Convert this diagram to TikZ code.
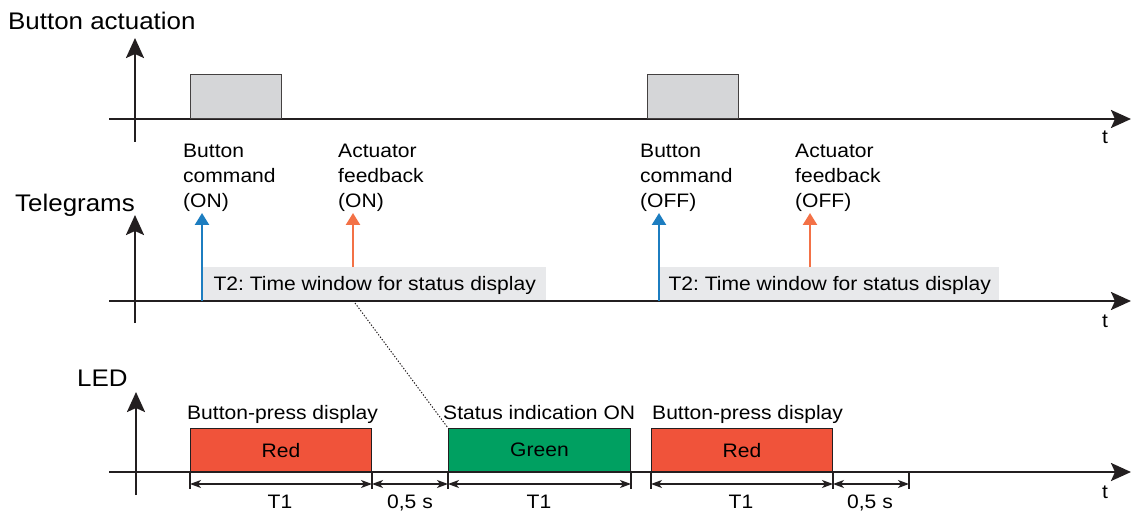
\documentclass[tikz,border=0pt]{standalone}
\usepackage{fontspec}
\setmainfont{Liberation Sans}[FakeStretch=1.08]
\usetikzlibrary{arrows.meta,calc}
\definecolor{ink}{HTML}{231F20}
\definecolor{boxgray}{HTML}{D5D6D8}
\definecolor{wingray}{HTML}{E8E9EB}
\definecolor{ledred}{HTML}{F0533A}
\definecolor{ledgreen}{HTML}{00A061}
\definecolor{cmdblue}{HTML}{1C7DC0}
\definecolor{fborange}{HTML}{F37146}
\frenchspacing
\begin{document}
\begin{tikzpicture}[x=1pt,y=-1pt,
  axis/.style={draw=ink,line width=2.5pt,-{Stealth[length=20pt,width=18pt,inset=4pt]}},
  press/.style={draw=ink!85,line width=1.3pt,fill=boxgray,inner sep=0,minimum width=91pt,minimum height=44pt,anchor=south west},
  ledbox/.style={draw=ink,line width=1pt,inner sep=0,minimum width=181pt,minimum height=43pt,anchor=south west,text depth=0pt,font=\fontsize{19.5}{24}\selectfont},
  win/.style={fill=wingray,inner sep=0,minimum height=33pt,anchor=south west,text depth=0pt,font=\fontsize{19.5}{24}\selectfont},
  tele/.style={line width=2.4pt,-{Triangle[length=12pt,width=14pt]}},
  lbl/.style={inner sep=0,align=left,anchor=base west,font=\fontsize{19.5}{25.5}\selectfont},
  title/.style={inner sep=0,anchor=base west,font=\fontsize{24}{28}\selectfont},
  dimlbl/.style={inner sep=0,anchor=base,font=\fontsize{19.5}{24}\selectfont},
  tick/.style={draw=ink,line width=1.1pt},
  dim/.style={draw=ink,line width=1.1pt,{Stealth[length=11pt,width=8pt,inset=3pt]}-{Stealth[length=11pt,width=8pt,inset=3pt]}},
]
\useasboundingbox (0,0) rectangle (1133,513);

% ---------- Button actuation ----------
\node[title] (ttl1) at (8,30) {Button actuation};
\coordinate (a1s) at (135,142);
\coordinate (a1t) at (135,38);
\coordinate (h1s) at (109,119);
\coordinate (h1t) at (1131,119);
\draw[axis] (a1s) -- (a1t);
\draw[axis] (h1s) -- (h1t);
\node[inner sep=0,anchor=base,font=\fontsize{19.5}{24}\selectfont] (t1) at (1105,144) {t};
\node[press] (p1) at (190,119) {};
\node[press] (p2) at (647,119) {};

% ---------- Telegrams ----------
\node[title] (ttl2) at (15,212) {Telegrams};
\coordinate (a2s) at (135,323);
\coordinate (a2t) at (135,215);
\coordinate (h2s) at (109,301);
\coordinate (h2t) at (1131,301);
\node[win,minimum width=343pt] (w1) at (203,300.5) {T2: Time window for status display};
\node[win,minimum width=339pt] (w2) at (660,300.5) {T2: Time window for status display};
\draw[axis] (a2s) -- (a2t);
\draw[axis] (h2s) -- (h2t);
\node[inner sep=0,anchor=base,font=\fontsize{19.5}{24}\selectfont] (t2) at (1105,327) {t};

\node[lbl] (l1) at (183,208) {Button\\command\\(ON)};
\node[lbl] (l2) at (338,208) {Actuator\\feedback\\(ON)};
\node[lbl] (l3) at (640,208) {Button\\command\\(OFF)};
\node[lbl] (l4) at (795,208) {Actuator\\feedback\\(OFF)};

\coordinate (c1) at (202,301);
\coordinate (c1t) at (202,213);
\coordinate (f1t) at (353,213);
\coordinate (c2) at (659,301);
\coordinate (c2t) at (659,213);
\coordinate (f2t) at (810,213);
\draw[tele,cmdblue] (c1) -- (c1t);
\draw[tele,fborange] (w1.north west -| f1t) -- (f1t);
\draw[tele,cmdblue] (c2) -- (c2t);
\draw[tele,fborange] (w2.north west -| f2t) -- (f2t);

% ---------- LED ----------
\node[title] (ttl3) at (77,386) {LED};
\coordinate (a3s) at (136,495);
\coordinate (a3t) at (136,392);
\coordinate (h3s) at (109,472);
\coordinate (h3t) at (1131,472);
\node[ledbox,fill=ledred] (r1) at (190,472) {Red};
\node[ledbox,fill=ledgreen,minimum width=182pt] (g1) at (448,472) {Green};
\node[ledbox,fill=ledred] (r2) at (651,472) {Red};
\draw[axis] (a3s) -- (a3t);
\draw[axis] (h3s) -- (h3t);
\node[inner sep=0,anchor=base,font=\fontsize{19.5}{24}\selectfont] (t3) at (1105,498) {t};

\node[lbl] (d1) at (187,419) {Button-press display};
\node[lbl] (d2) at (443,419) {Status indication ON};
\node[lbl] (d3) at (652,419) {Button-press display};

% dotted link from T2 window to the green status box
\coordinate (dl) at (355,303);
\draw[ink,line width=1pt,dash pattern=on 1.3pt off 1.7pt] (dl) -- (g1.north west);

% dimension ticks
\coordinate (e1) at (909,472);
\foreach \p in {r1.south west,r1.south east,g1.south west,g1.south east,r2.south west,r2.south east}
  \draw[tick] (\p) -- ++(0,17);
\draw[tick] (e1) -- ++(0,17);

% dimension arrows
\draw[dim] ([yshift=-12pt]r1.south west) -- ([yshift=-12pt]r1.south east);
\draw[dim] ([yshift=-12pt]r1.south east) -- ([yshift=-12pt]g1.south west);
\draw[dim] ([yshift=-12pt]g1.south west) -- ([yshift=-12pt]g1.south east);
\draw[dim] ([yshift=-12pt]r2.south west) -- ([yshift=-12pt]r2.south east);
\draw[dim] ([yshift=-12pt]r2.south east) -- ([yshift=-12pt]e1);

\node[dimlbl] (m1) at (280,508) {T1};
\node[dimlbl] (m2) at (410,508) {0,5 s};
\node[dimlbl] (m3) at (539,508) {T1};
\node[dimlbl] (m4) at (741,508) {T1};
\node[dimlbl] (m5) at (870,508) {0,5 s};
\end{tikzpicture}
\end{document}
